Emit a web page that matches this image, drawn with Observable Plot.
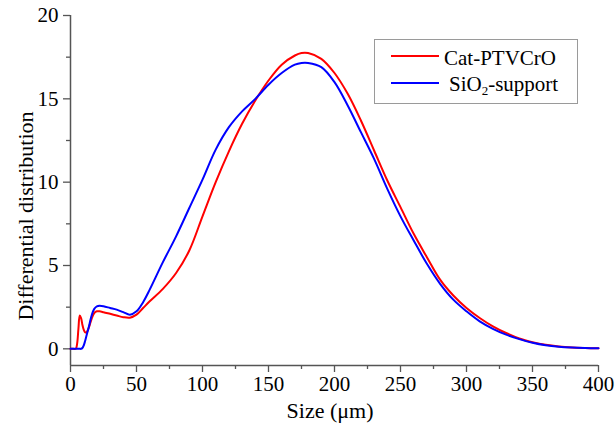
<!DOCTYPE html>
<html>
<head>
<meta charset="utf-8">
<script src="https://cdn.jsdelivr.net/npm/d3@7"></script>
<script src="https://cdn.jsdelivr.net/npm/@observablehq/plot@0.6"></script>
<style>
  html, body { margin: 0; padding: 0; background: #fff; }
  #wrap { position: relative; width: 615px; height: 425px; font-family: "Liberation Serif", "Times New Roman", Times, serif; color: #000; }
  #wrap svg text { font-family: "Liberation Serif", "Times New Roman", Times, serif; }
  #legend { position: absolute; left: 374px; top: 39px; width: 202px; height: 63px; border: 1px solid #9a9a9a; background: #fff; }
  .sw { position: absolute; left: 16px; width: 48px; height: 2px; }
  .lab { position: absolute; font-size: 21px; line-height: 1; white-space: nowrap; }
  .lab sub { font-size: 13px; vertical-align: -4px; line-height: 0; }
  .title { position: absolute; font-size: 22px; line-height: 1; white-space: nowrap; text-align: center; }
  #xtitle { left: 230px; width: 200px; top: 400px; }
  #ytitle { left: -124px; width: 300px; top: 205px; transform: rotate(-90deg); }
</style>
</head>
<body>
<div id="wrap"></div>
<script>
// Particle size (µm)
const sizes = [0, 2, 4, 5, 6, 7, 8, 9, 10, 11, 12, 13, 14, 15, 16, 18, 20, 22, 25, 30, 35, 40, 45, 50, 55, 60, 70, 80, 90, 100, 110, 120, 130, 140, 150, 160, 170, 175, 180, 190, 200, 210, 220, 230, 240, 250, 260, 270, 280, 290, 300, 310, 320, 330, 340, 350, 360, 370, 380, 390, 400];
// Differential distribution, Cat-PTVCrO
const catPTVCrO = [0, 0, 0, 0.3, 1.2, 2.0, 1.85, 1.45, 1.15, 1.0, 0.98, 1.1, 1.3, 1.55, 1.8, 2.15, 2.25, 2.25, 2.2, 2.1, 2.0, 1.9, 1.87, 2.05, 2.45, 2.85, 3.6, 4.55, 5.9, 7.95, 10.0, 11.85, 13.5, 14.9, 16.1, 17.05, 17.6, 17.75, 17.75, 17.4, 16.55, 15.3, 13.7, 11.9, 10.1, 8.5, 6.9, 5.5, 4.15, 3.2, 2.45, 1.85, 1.35, 0.95, 0.62, 0.4, 0.24, 0.14, 0.08, 0.05, 0.03];
// Differential distribution, SiO2-support
const sio2Support = [0, 0, 0, 0, 0, 0, 0, 0.05, 0.2, 0.45, 0.75, 1.05, 1.35, 1.7, 2.0, 2.4, 2.55, 2.58, 2.55, 2.45, 2.35, 2.2, 2.05, 2.25, 2.8, 3.55, 5.2, 6.75, 8.45, 10.15, 11.95, 13.3, 14.25, 15.0, 15.85, 16.55, 17.05, 17.15, 17.15, 16.9, 16.0, 14.6, 13.0, 11.4, 9.6, 7.95, 6.5, 5.1, 3.9, 2.95, 2.25, 1.65, 1.2, 0.85, 0.58, 0.37, 0.22, 0.13, 0.08, 0.05, 0.03];

const seriesNames = ["Cat-PTVCrO", "SiO2-support"];
const seriesColors = ["#ff0000", "#0000ff"];
const xTicks = [0, 50, 100, 150, 200, 250, 300, 350, 400];
const xMinorTicks = [25, 75, 125, 175, 225, 275, 325, 375];
const yTicks = [0, 5, 10, 15, 20];
const yMinorTicks = [2.5, 7.5, 12.5, 17.5];
const xTitle = "Size (μm)";
const yTitle = "Differential distribution";

const rows = [
  ...sizes.map((x, i) => ({x, y: catPTVCrO[i], s: seriesNames[0]})),
  ...sizes.map((x, i) => ({x, y: sio2Support[i], s: seriesNames[1]}))
];

const axisColor = "#555";
const chart = Plot.plot({
  width: 615,
  height: 425,
  marginLeft: 70,
  marginRight: 17,
  marginTop: 15,
  marginBottom: 60,
  style: {fontFamily: "Liberation Serif, Times New Roman, serif", background: "#fff", color: "#000"},
  x: {domain: [0, 400]},
  y: {domain: [-1, 20]},
  color: {domain: seriesNames, range: seriesColors},
  marks: [
    Plot.axisX({ticks: xTicks, tickSize: 7, tickPadding: 4, fontSize: 21, stroke: axisColor, strokeWidth: 1.3, fill: "#000", label: null}),
    Plot.axisX({ticks: xMinorTicks, tickSize: 4, text: null, stroke: axisColor, strokeWidth: 1.3, label: null}),
    Plot.axisY({ticks: yTicks, tickSize: 7, tickPadding: 5, fontSize: 21, stroke: axisColor, strokeWidth: 1.3, fill: "#000", label: null}),
    Plot.axisY({ticks: yMinorTicks, tickSize: 4, text: null, stroke: axisColor, strokeWidth: 1.3, label: null}),
    Plot.ruleX([0], {stroke: axisColor, strokeWidth: 1.5}),
    Plot.ruleY([-1], {stroke: axisColor, strokeWidth: 1.5}),
    Plot.line(rows, {x: "x", y: "y", z: "s", stroke: "s", strokeWidth: 2, curve: "catmull-rom"})
  ]
});

const wrap = document.getElementById("wrap");
wrap.appendChild(chart);

const xt = document.createElement("div");
xt.className = "title"; xt.id = "xtitle"; xt.textContent = xTitle;
wrap.appendChild(xt);
const yt = document.createElement("div");
yt.className = "title"; yt.id = "ytitle"; yt.textContent = yTitle;
wrap.appendChild(yt);

const legend = document.createElement("div");
legend.id = "legend";
legend.innerHTML =
  `<div class="sw" style="top:15px;background:${seriesColors[0]}"></div>` +
  `<div class="lab" style="left:69px;top:8px">${seriesNames[0]}</div>` +
  `<div class="sw" style="top:42px;background:${seriesColors[1]}"></div>` +
  `<div class="lab" style="left:74px;top:34px">SiO<sub>2</sub>-support</div>`;
wrap.appendChild(legend);
</script>
</body>
</html>
